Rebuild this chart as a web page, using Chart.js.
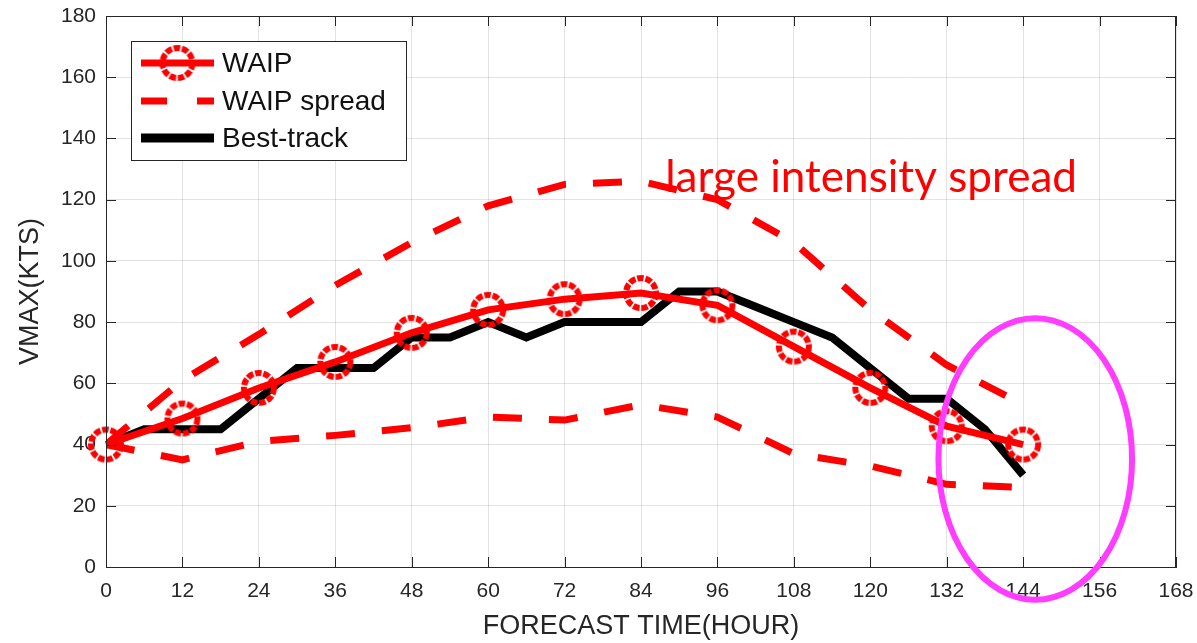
<!DOCTYPE html>
<html>
<head>
<meta charset="utf-8">
<title>WAIP intensity forecast</title>
<script src="https://cdn.jsdelivr.net/npm/chart.js@4.4.1/dist/chart.umd.min.js"></script>
<style>
  html, body { margin: 0; padding: 0; background: #fff; }
  #wrap { width: 1197px; height: 643px; position: relative; }
</style>
</head>
<body>
<div id="wrap"><canvas id="vmaxChart"></canvas></div>
<script>
// Data
const waipHours = [0, 12, 24, 36, 48, 60, 72, 84, 96, 108, 120, 132, 144];
const waipVmax = [40, 48.5, 58.5, 67, 76.5, 84, 87.5, 89.5, 85.5, 72, 58.5, 46, 40];

const spreadHours = [0, 12, 24, 36, 48, 60, 72, 84, 96, 108, 120, 132, 144];
const spreadUpper = [40, 61, 76, 92, 106, 118, 125, 126, 120, 106, 84, 66, 53];
const spreadLower = [40, 35, 41, 43, 45.5, 49, 48, 53, 49, 37, 33, 27, 26];

const bestHours = [0, 6, 12, 18, 24, 30, 36, 42, 48, 54, 60, 66, 72, 78, 84, 90, 96, 102, 108, 114, 120, 126, 132, 138, 144];
const bestVmax = [40, 45, 45, 45, 55, 65, 65, 65, 75, 75, 80, 75, 80, 80, 80, 90, 90, 85, 80, 75, 65, 55, 55, 45, 30];

const xTicks = [0, 12, 24, 36, 48, 60, 72, 84, 96, 108, 120, 132, 144, 156, 168];
const yTicks = [0, 20, 40, 60, 80, 100, 120, 140, 160, 180];

const legendLabels = ['WAIP', 'WAIP spread', 'Best-track'];
const noteText = 'large intensity spread';

const RED = '#ff0000';
const AXIS = '#262626';

const pairs = (xs, ys) => xs.map((x, i) => ({ x: x, y: ys[i] }));

// dashed-ring marker, like the matlab circles
const makeRing = (r, lw) => {
  const size = Math.ceil((r + lw) * 2 + 2);
  const c = document.createElement('canvas');
  c.width = size; c.height = size;
  const g = c.getContext('2d');
  g.strokeStyle = RED;
  g.lineWidth = lw;
  g.setLineDash([6.5, 1.8]);
  g.beginPath();
  g.arc(size / 2, size / 2, r, 0, Math.PI * 2);
  g.stroke();
  return c;
};
const ring = makeRing(15, 6);

// annotations, in data units
const note = { x: 87.8, y: 122.6, width: 412 };
const oval = { x: 145.9, y: 35.3, rx: 15.2, ry: 46 };

const boxPlugin = {
  id: 'boxPlugin',
  afterDraw(chart) {
    const { ctx, chartArea: a, scales } = chart;
    const xs = scales.x, ys = scales.y;
    ctx.save();

    // axes box and inward ticks
    ctx.strokeStyle = AXIS;
    ctx.lineWidth = 1;
    ctx.strokeRect(Math.round(a.left) + 0.5, Math.round(a.top) + 0.5, Math.round(a.right - a.left) - 1, Math.round(a.bottom - a.top));
    ctx.beginPath();
    xTicks.forEach(t => {
      const px = Math.round(xs.getPixelForValue(t)) + 0.5;
      ctx.moveTo(px, a.bottom); ctx.lineTo(px, a.bottom - 10);
      ctx.moveTo(px, a.top); ctx.lineTo(px, a.top + 10);
    });
    yTicks.forEach(t => {
      const py = Math.round(ys.getPixelForValue(t)) + 0.5;
      ctx.moveTo(a.left, py); ctx.lineTo(a.left + 10, py);
      ctx.moveTo(a.right, py); ctx.lineTo(a.right - 10, py);
    });
    ctx.stroke();

    // legend box
    const lx = 131, ly = 41, lw = 275, lh = 119;
    ctx.fillStyle = '#fff';
    ctx.fillRect(lx, ly, lw, lh);
    ctx.strokeRect(lx + 0.5, ly + 0.5, lw, lh);
    const rows = [63, 101, 138];
    ctx.lineCap = 'butt';
    // WAIP
    ctx.strokeStyle = RED; ctx.lineWidth = 7;
    ctx.beginPath(); ctx.moveTo(141, rows[0]); ctx.lineTo(214, rows[0]); ctx.stroke();
    ctx.drawImage(ring, 177.5 - ring.width / 2, rows[0] - ring.height / 2);
    // spread
    ctx.setLineDash([26, 30]);
    ctx.beginPath(); ctx.moveTo(141, rows[1]); ctx.lineTo(214, rows[1]); ctx.stroke();
    ctx.setLineDash([]);
    // best track
    ctx.strokeStyle = '#000'; ctx.lineWidth = 9;
    ctx.beginPath(); ctx.moveTo(141, rows[2]); ctx.lineTo(214, rows[2]); ctx.stroke();
    ctx.fillStyle = '#111';
    ctx.font = '28px "Liberation Sans", Arial, sans-serif';
    ctx.textBaseline = 'middle';
    ctx.textAlign = 'left';
    legendLabels.forEach((s, i) => ctx.fillText(s, 222, rows[i] + 1));

    // red note
    ctx.font = '44px Lato, "Open Sans", sans-serif';
    const w = ctx.measureText(noteText).width;
    const fs = 44 * note.width / w;
    ctx.font = fs.toFixed(1) + 'px Lato, "Open Sans", sans-serif';
    ctx.fillStyle = RED;
    ctx.textBaseline = 'alphabetic';
    ctx.fillText(noteText, xs.getPixelForValue(note.x), ys.getPixelForValue(note.y));

    // magenta oval
    const cx = xs.getPixelForValue(oval.x), cy = ys.getPixelForValue(oval.y);
    const rx = xs.getPixelForValue(oval.x + oval.rx) - cx;
    const ry = cy - ys.getPixelForValue(oval.y + oval.ry);
    ctx.strokeStyle = '#ff3cff';
    ctx.lineWidth = 6;
    ctx.beginPath();
    ctx.ellipse(cx, cy, rx, ry, 0, 0, Math.PI * 2);
    ctx.stroke();
    ctx.restore();
  }
};

const ctx = document.getElementById('vmaxChart').getContext('2d');
new Chart(ctx, {
  type: 'line',
  data: {
    datasets: [
      {
        label: legendLabels[0],
        data: pairs(waipHours, waipVmax),
        borderColor: RED,
        borderWidth: 7,
        pointStyle: ring,
        pointRadius: 15,
        clip: false,
        order: 0
      },
      {
        label: legendLabels[1],
        data: pairs(spreadHours, spreadUpper),
        borderColor: RED,
        borderWidth: 7,
        borderDash: [29, 27],
        pointRadius: 0,
        order: 1
      },
      {
        label: legendLabels[1],
        data: pairs(spreadHours, spreadLower),
        borderColor: RED,
        borderWidth: 7,
        borderDash: [29, 27],
        pointRadius: 0,
        order: 1
      },
      {
        label: legendLabels[2],
        data: pairs(bestHours, bestVmax),
        borderColor: '#000',
        borderWidth: 8,
        pointRadius: 0,
        order: 2
      }
    ]
  },
  options: {
    responsive: true,
    maintainAspectRatio: false,
    animation: false,
    layout: { autoPadding: false, padding: { top: 16, right: 21, left: 0, bottom: 0 } },
    plugins: { legend: { display: false }, tooltip: { enabled: false } },
    scales: {
      x: {
        type: 'linear', min: 0, max: 168,
        afterFit: s => { s.height = 76; s.paddingLeft = 0; s.paddingRight = 0; },
        afterBuildTicks: s => { s.ticks = xTicks.map(v => ({ value: v })); },
        grid: { color: 'rgba(0,0,0,0.11)', drawTicks: false },
        border: { color: AXIS },
        ticks: { color: AXIS, padding: 12, maxRotation: 0, font: { family: '"Liberation Sans", Arial', size: 21 } },
        title: {
          display: true, text: 'FORECAST TIME(HOUR)', color: AXIS,
          padding: { top: 0, bottom: 0 },
          font: { family: '"Liberation Sans", Arial', size: 27, lineHeight: 1.2 }
        }
      },
      y: {
        type: 'linear', min: 0, max: 180,
        afterFit: s => { s.width = 106; s.paddingTop = 0; s.paddingBottom = 0; },
        afterBuildTicks: s => { s.ticks = yTicks.map(v => ({ value: v })); },
        grid: { color: 'rgba(0,0,0,0.11)', drawTicks: false },
        border: { color: AXIS },
        ticks: { color: AXIS, padding: 10, font: { family: '"Liberation Sans", Arial', size: 21 } },
        title: {
          display: true, text: 'VMAX(KTS)', color: AXIS,
          padding: { top: 14, bottom: 0 },
          font: { family: '"Liberation Sans", Arial', size: 27, lineHeight: 1.2 }
        }
      }
    }
  },
  plugins: [boxPlugin]
});
</script>
</body>
</html>
